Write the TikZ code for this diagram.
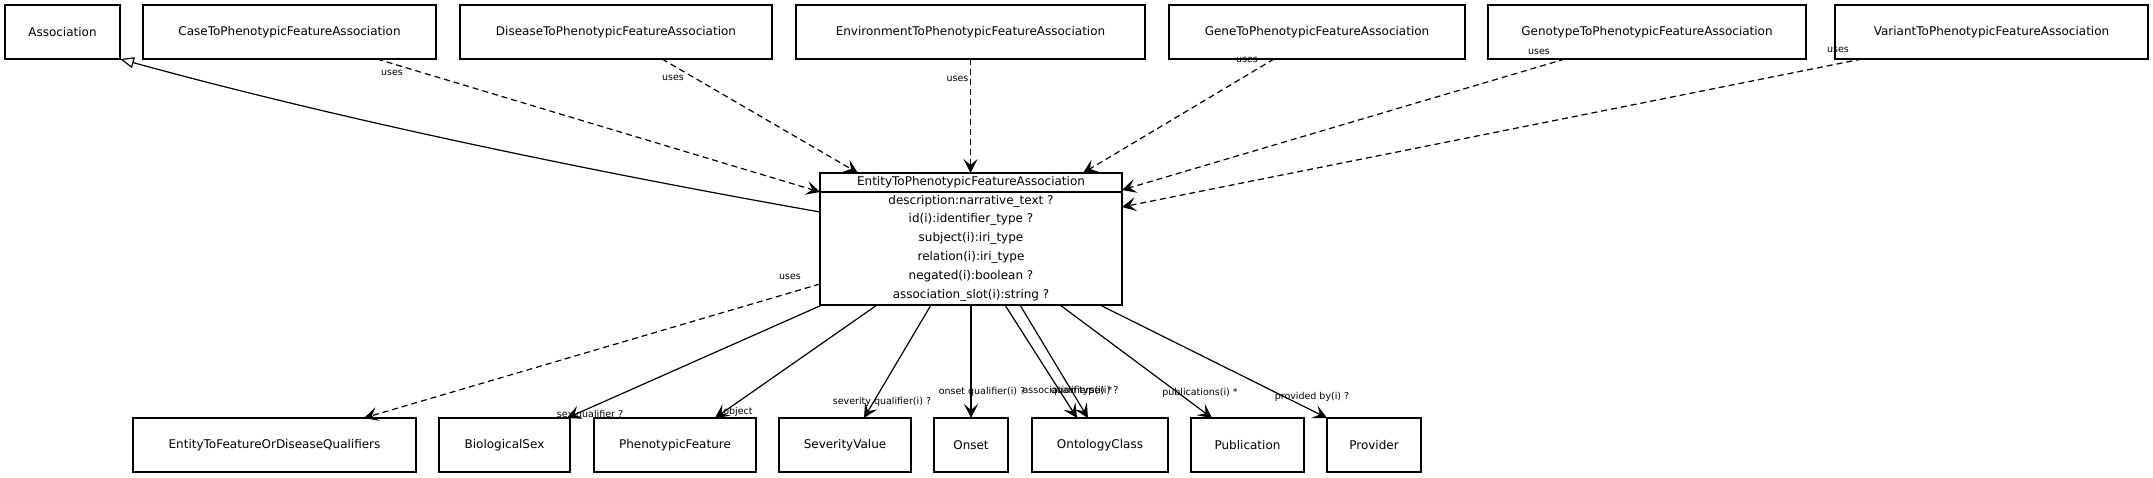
\documentclass[tikz,border=0pt]{standalone}
\usepackage{fontspec}
\setmainfont{DejaVu Sans}
\usetikzlibrary{arrows.meta}

\begin{document}
\begin{tikzpicture}[x=1pt, y=-1pt, line width=1.2pt,
	cls/.style={draw, inner sep=0, outer sep=0, minimum height=54pt, font=\fontsize{12}{14}\selectfont},
	lbl/.style={inner sep=0, font=\fontsize{9.5}{11}\selectfont},
	uses/.style={dashed, dash pattern=on 6pt off 4pt, -{Stealth[length=14pt, width=14pt, inset=6pt]}},
	slot/.style={-{Stealth[length=14pt, width=14pt, inset=6pt]}},
	isa/.style={-{Triangle[open, length=14pt, width=11pt]}}]
	\useasboundingbox (0,0) rectangle (2153,478);
	
	\node[cls, minimum width=115pt] (assoc) at (62.5,32) {Association};
	\node[cls, minimum width=293pt] (casepfa) at (289.5,32) {CaseToPhenotypicFeatureAssociation};
	\node[cls, minimum width=312pt] (diseasepfa) at (616,32) {DiseaseToPhenotypicFeatureAssociation};
	\node[cls, minimum width=349pt] (envpfa) at (970.5,32) {EnvironmentToPhenotypicFeatureAssociation};
	\node[cls, minimum width=296pt] (genepfa) at (1317,32) {GeneToPhenotypicFeatureAssociation};
	\node[cls, minimum width=318pt] (genotypepfa) at (1647,32) {GenotypeToPhenotypicFeatureAssociation};
	\node[cls, minimum width=313pt] (variantpfa) at (1991.5,32) {VariantToPhenotypicFeatureAssociation};
	
	\node[draw, inner sep=0, outer sep=0, minimum width=302pt, minimum height=132pt] (etpfa) at (971,239) {};
	\node[font=\fontsize{12}{14}\selectfont, inner sep=0] (etpfatitle) at (971,182.5) {EntityToPhenotypicFeatureAssociation};
	\draw ([yshift=-19]etpfa.north west) -- ([yshift=-19]etpfa.north east);
	\node[font=\fontsize{12}{18.8}\selectfont, align=center, inner sep=0] (etpfaslots) at (971,248) {description:narrative\_text ?\\ id(i):identifier\_type ?\\ subject(i):iri\_type\\ relation(i):iri\_type\\ negated(i):boolean ?\\ association\_slot(i):string ?};
	
	\node[cls, minimum width=283pt] (qualif) at (274.5,445) {EntityToFeatureOrDiseaseQualifiers};
	\node[cls, minimum width=131pt] (biosex) at (504.5,445) {BiologicalSex};
	\node[cls, minimum width=162pt] (phenofeat) at (675,445) {PhenotypicFeature};
	\node[cls, minimum width=132pt] (sevvalue) at (845,445) {SeverityValue};
	\node[cls, minimum width=74pt] (onset) at (971,445) {Onset};
	\node[cls, minimum width=136pt] (ontclass) at (1100,445) {OntologyClass};
	\node[cls, minimum width=113pt] (pub) at (1247.5,445) {Publication};
	\node[cls, minimum width=94pt] (provider) at (1374,445) {Provider};
	
	\draw[isa] ([yshift=-39]etpfa.north west) .. controls (560,166) and (320,114) .. (assoc.south east);
	
	\draw[uses] ([xshift=87.5]casepfa.south) -- ([yshift=-19]etpfa.north west);
	\node[lbl] at (392,73) {uses};
	\draw[uses] ([xshift=46]diseasepfa.south) -- ([xshift=38]etpfa.north west);
	\node[lbl] at (673,78) {uses};
	\draw[uses] (envpfa.south) -- (etpfa.north -| envpfa.south);
	\node[lbl, anchor=east] at (969,79) {uses};
	\draw[uses] ([xshift=-43]genepfa.south) -- ([xshift=112]etpfa.north);
	\node[lbl] at (1247,60) {uses};
	\draw[uses] ([xshift=-82]genotypepfa.south) -- ([yshift=-17]etpfa.north east);
	\node[lbl] at (1539,52) {uses};
	\draw[uses] ([xshift=-129.5]variantpfa.south) -- ([yshift=-34]etpfa.north east);
	\node[lbl] at (1838,50) {uses};
	
	\draw[uses] ([yshift=21]etpfa.south west) -- ([xshift=89.5]qualif.north);
	\node[lbl] at (790,277) {uses};
	\draw[slot] ([xshift=2]etpfa.south west) -- ([xshift=-3]biosex.north east);
	\node[lbl] at (590,415) {sex qualifier ?};
	\draw[slot] ([xshift=57]etpfa.south west) -- ([xshift=40]phenofeat.north);
	\node[lbl] at (738,412) {object};
	\draw[slot] ([xshift=-40]etpfa.south) -- ([xshift=19]sevvalue.north);
	\node[lbl] at (882,402) {severity qualifier(i) ?};
	\draw[slot] (etpfa.south) -- (onset.north);
	\node[lbl] at (982,392) {onset qualifier(i) ?};
	\draw[slot] ([xshift=34]etpfa.south) -- ([xshift=-23]ontclass.north);
	\node[lbl, anchor=west] at (1022,391) {association type(i) ?};
	\draw[slot] ([xshift=49]etpfa.south) -- ([xshift=-12]ontclass.north);
	\node[lbl, anchor=east] at (1113,391) {qualifiers(i) *};
	\draw[slot] ([xshift=89]etpfa.south) -- ([xshift=-35.5]pub.north);
	\node[lbl] at (1200,393) {publications(i) *};
	\draw[slot] ([xshift=-22]etpfa.south east) -- (provider.north west);
	\node[lbl] at (1312,397) {provided by(i) ?};
\end{tikzpicture}
\end{document}
